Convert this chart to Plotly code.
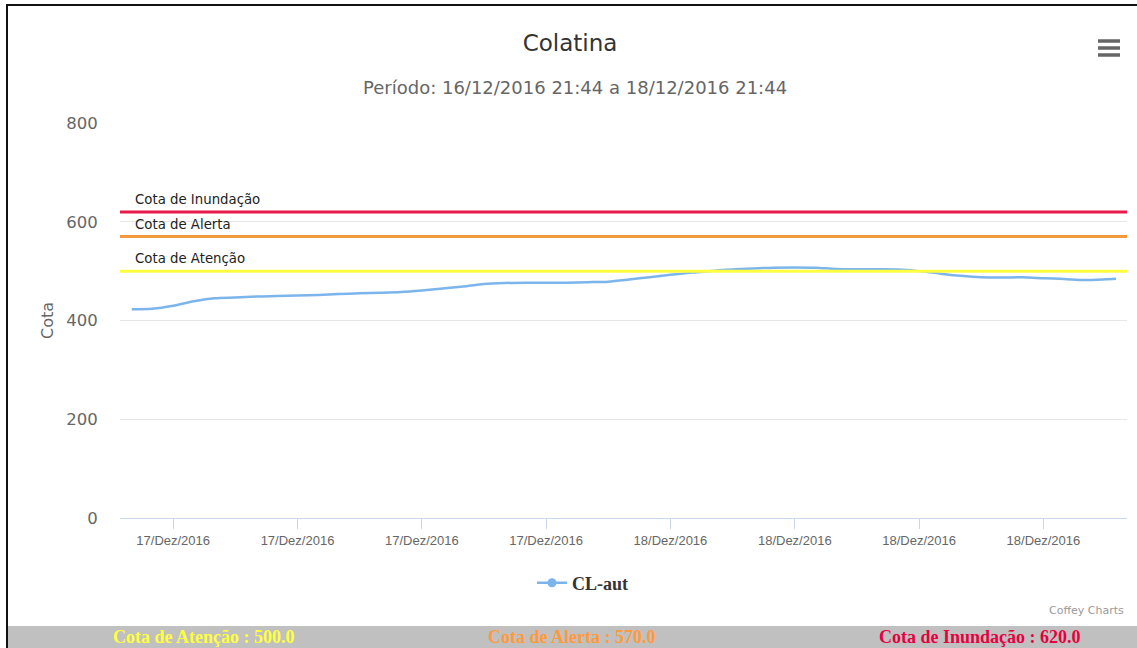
import plotly.graph_objects as go

# ---- data ----
times = [
    "2016-12-16 22:00", "2016-12-16 23:00",
    "2016-12-17 00:00", "2016-12-17 01:00", "2016-12-17 02:00", "2016-12-17 03:00",
    "2016-12-17 04:00", "2016-12-17 05:00", "2016-12-17 06:00", "2016-12-17 07:00",
    "2016-12-17 08:00", "2016-12-17 09:00", "2016-12-17 10:00", "2016-12-17 11:00",
    "2016-12-17 12:00", "2016-12-17 13:00", "2016-12-17 14:00", "2016-12-17 15:00",
    "2016-12-17 16:00", "2016-12-17 17:00", "2016-12-17 18:00", "2016-12-17 19:00",
    "2016-12-17 20:00", "2016-12-17 21:00", "2016-12-17 22:00", "2016-12-17 23:00",
    "2016-12-18 00:00", "2016-12-18 01:00", "2016-12-18 02:00", "2016-12-18 03:00",
    "2016-12-18 04:00", "2016-12-18 05:00", "2016-12-18 06:00", "2016-12-18 07:00",
    "2016-12-18 08:00", "2016-12-18 09:00", "2016-12-18 10:00", "2016-12-18 11:00",
    "2016-12-18 12:00", "2016-12-18 13:00", "2016-12-18 14:00", "2016-12-18 15:00",
    "2016-12-18 16:00", "2016-12-18 17:00", "2016-12-18 18:00", "2016-12-18 19:00",
    "2016-12-18 20:00", "2016-12-18 21:00", "2016-12-18 21:30",
]
cota = [
    423, 424,
    430, 439, 445, 446.5, 448.5, 449.5, 450.5, 451.8, 453.5, 455, 456.2, 457.8,
    461, 465, 469, 474, 476, 476.6, 476.6, 476.6, 477.5, 478.7, 483, 487.8,
    492.5, 497, 500.5, 503.5, 505.5, 507, 507.5, 507, 504.5, 504, 504, 503.5,
    500, 495, 490.5, 487.5, 487, 487.5, 485.7, 484, 482, 483.5, 484.7,
]
series_name = "CL-aut"

threshold_names = ["Cota de Atenção", "Cota de Alerta", "Cota de Inundação"]
threshold_values = [500.0, 570.0, 620.0]
threshold_colors = ["#ffff40", "#f39a3c", "#e8194b"]
band_text_colors = ["#ffff40", "#ff9a3c", "#e60040"]

y_ticks = [0, 200, 400, 600, 800]

title_text = "Colatina"
subtitle_text = "Período: 16/12/2016 21:44 a 18/12/2016 21:44"

# ---- figure geometry ----
W, H = 1137, 648
ML, MR, MT, MB = 120, 10, 123, 130
PW = W - ML - MR
PH = H - MT - MB


def px_x(px):
    return (px - ML) / PW


def px_y(py):
    return (H - MB - py) / PH


fig = go.Figure()
fig.add_trace(go.Scatter(
    x=times, y=cota, name=series_name, mode="lines",
    line=dict(color="#7cb5ec", width=2.5, shape="spline", smoothing=0.8), showlegend=False,
))
# legend entry (line + circle symbol, as in the original legend)
fig.add_trace(go.Scatter(
    x=[None], y=[None], name="<b>" + series_name + "</b>", mode="lines+markers",
    line=dict(color="#7cb5ec", width=2.5), marker=dict(size=9, color="#7cb5ec"),
))

shapes = []
annotations = []
for name, val, col in zip(threshold_names, threshold_values, threshold_colors):
    shapes.append(dict(type="line", xref="paper", yref="y", x0=0, x1=1, y0=val, y1=val,
                       line=dict(color=col, width=3), layer="above"))
    annotations.append(dict(text=name, xref="paper", yref="y", x=px_x(133), y=val,
                            xanchor="left", yanchor="bottom", yshift=3, showarrow=False,
                            font=dict(family="DejaVu Sans", size=13.3, color="#222")))

# outer frame
shapes.append(dict(type="line", xref="paper", yref="paper", x0=px_x(7), x1=px_x(1140),
                   y0=px_y(5), y1=px_y(5), line=dict(color="#111", width=2)))
shapes.append(dict(type="line", xref="paper", yref="paper", x0=px_x(7), x1=px_x(7),
                   y0=px_y(4), y1=px_y(650), line=dict(color="#111", width=2)))
# bottom band
shapes.append(dict(type="rect", xref="paper", yref="paper", x0=px_x(8), x1=px_x(1140),
                   y0=px_y(626), y1=px_y(650), fillcolor="#c0c0c0", line=dict(width=0)))
# hamburger menu icon
for yy in (41, 48, 55):
    shapes.append(dict(type="line", xref="paper", yref="paper", x0=px_x(1098), x1=px_x(1120),
                       y0=px_y(yy), y1=px_y(yy), line=dict(color="#666", width=3.5)))

band_centers = [203, 571, 980]
for name, val, col, cx in zip(threshold_names, threshold_values, band_text_colors, band_centers):
    annotations.append(dict(text="<b>%s : %.1f</b>" % (name, val), xref="paper", yref="paper",
                            x=px_x(cx), y=px_y(637), xanchor="center", yanchor="middle",
                            showarrow=False,
                            font=dict(family="Liberation Serif", size=18, color=col)))

annotations.append(dict(text="Coffey Charts", xref="paper", yref="paper", x=px_x(1126),
                        y=px_y(610), xanchor="right", yanchor="middle", showarrow=False,
                        font=dict(family="DejaVu Sans", size=11, color="#999")))
annotations.append(dict(text=subtitle_text, xref="paper", yref="paper", x=px_x(575),
                        y=px_y(88), xanchor="center", yanchor="middle", showarrow=False,
                        font=dict(family="DejaVu Sans", size=18, color="#666")))

fig.update_layout(
    width=W, height=H,
    margin=dict(l=ML, r=MR, t=MT, b=MB),
    paper_bgcolor="white", plot_bgcolor="white",
    title=dict(text=title_text, x=px_x(570), xref="paper", xanchor="center",
               y=1 - 43 / H, yanchor="middle",
               font=dict(family="DejaVu Sans", size=23, color="#333")),
    shapes=shapes, annotations=annotations,
    showlegend=True,
    legend=dict(orientation="h", x=px_x(583), y=px_y(583), xanchor="center", yanchor="middle",
                font=dict(family="Liberation Serif", size=18, color="#333"),
                itemwidth=30),
    xaxis=dict(
        type="date",
        range=["2016-12-16 21:26", "2016-12-18 22:02"],
        tick0="2016-12-17 00:00", dtick=6 * 3600 * 1000,
        tickformat="%d/Dez/%Y",
        showgrid=False, zeroline=False,
        showline=True, linecolor="#ccd6eb", linewidth=1,
        ticks="outside", ticklen=10, tickcolor="#ccd6eb",
        tickfont=dict(family="Liberation Sans", size=13, color="#666"),
    ),
    yaxis=dict(
        range=[0, 800], tickvals=y_ticks,
        showgrid=True, gridcolor="#e6e6e6", zeroline=False,
        ticks="outside", ticklen=18, tickcolor="rgba(0,0,0,0)",
        tickfont=dict(family="DejaVu Sans", size=16.5, color="#666"),
        title=dict(text="Cota", standoff=8,
                   font=dict(family="DejaVu Sans", size=16, color="#666")),
    ),
)

fig.write_html("out.html", config={"displayModeBar": False},
               post_script="document.body.style.margin='0';document.body.style.overflow='hidden';")
